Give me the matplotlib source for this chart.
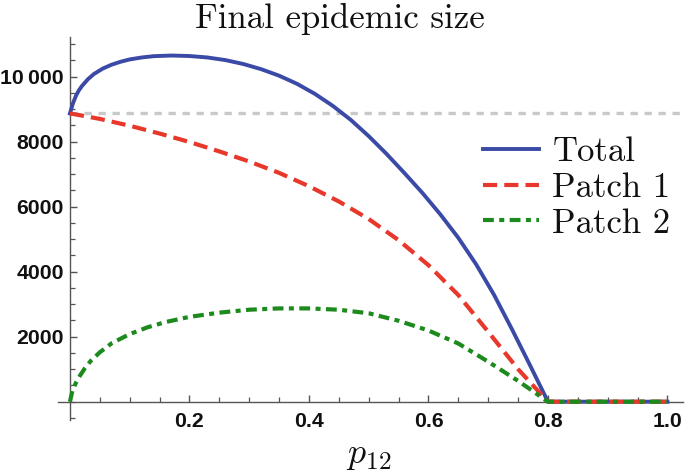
import matplotlib
matplotlib.use("Agg")
import matplotlib.pyplot as plt
from matplotlib.ticker import MultipleLocator, FixedLocator

# ---- data ----
p_total = [0.0, 0.005, 0.01, 0.015, 0.02, 0.03, 0.04, 0.055, 0.07, 0.085, 0.10, 0.12, 0.14,
           0.17, 0.20, 0.23, 0.26, 0.29, 0.32, 0.35, 0.38, 0.41, 0.44, 0.47, 0.50, 0.53,
           0.56, 0.59, 0.62, 0.65, 0.68, 0.71, 0.74, 0.77, 0.80, 0.90, 1.0]
total = [8870, 9180, 9410, 9580, 9710, 9920, 10080, 10250, 10370, 10460, 10530, 10590, 10630,
         10650, 10635, 10590, 10510, 10390, 10230, 10030, 9780, 9470, 9100, 8670, 8170, 7620,
         7030, 6420, 5760, 5040, 4220, 3280, 2220, 1120, 0, 0, 0]

p_patch1 = [0.0, 0.05, 0.10, 0.15, 0.20, 0.25, 0.30, 0.35, 0.40, 0.45, 0.50, 0.55, 0.60,
            0.65, 0.70, 0.75, 0.775, 0.80, 0.90, 1.0]
patch1 = [8870, 8700, 8490, 8250, 7990, 7700, 7390, 7040, 6630, 6160, 5620, 4970, 4200,
          3280, 2150, 1000, 500, 0, 0, 0]

p_patch2 = [0.0, 0.004, 0.01, 0.0167, 0.025, 0.035, 0.05, 0.07, 0.10, 0.13, 0.16, 0.20, 0.25,
            0.30, 0.35, 0.40, 0.45, 0.50, 0.55, 0.60, 0.65, 0.70, 0.75, 0.80, 0.90, 1.0]
patch2 = [0, 330, 580, 800, 1030, 1260, 1520, 1800, 2080, 2290, 2450, 2610, 2740,
          2830, 2870, 2870, 2830, 2720, 2490, 2190, 1790, 1230, 640, 0, 0, 0]

baseline = 8870  # single-patch reference level

x_major = [0.2, 0.4, 0.6, 0.8, 1.0]
x_labels = ["0.2", "0.4", "0.6", "0.8", "1.0"]
y_major = [2000, 4000, 6000, 8000, 10000]
y_labels = ["2000", "4000", "6000", "8000", "10\u2009000"]

labels = ["Total", "Patch 1", "Patch 2"]
title = "Final epidemic size"

# ---- figure ----
plt.rcParams['mathtext.fontset'] = 'cm'
plt.rcParams['axes.unicode_minus'] = False

fig = plt.figure(figsize=(6.85, 4.72), dpi=100)
ax = fig.add_axes([58/685, 52/472, 625/685, 383/472])

blue = "#3a4aa6"
red = "#e8372b"
green = "#1d8a1d"
gray = "#c9c9c9"

ax.axhline(baseline, xmin=0.02 / 1.046, xmax=1.0, color=gray, lw=2.4,
           dashes=(2.2, 2.0), zorder=1)
ax.plot(p_total, total, color=blue, lw=2.8, label=labels[0], zorder=3)
ax.plot(p_patch1, patch1, color=red, lw=3.0, dashes=(3.4, 1.7), label=labels[1], zorder=4)
ax.plot(p_patch2, patch2, color=green, lw=3.0, dashes=(2.6, 1.3, 1.2, 1.3), label=labels[2], zorder=5)

ax.set_xlim(-0.02, 1.026)
ax.set_ylim(-563, 11220)

for s in ['top', 'right']:
    ax.spines[s].set_visible(False)
for s in ['left', 'bottom']:
    ax.spines[s].set_position(('data', 0))
    ax.spines[s].set_color('#555555')
    ax.spines[s].set_linewidth(1.0)

ax.xaxis.set_major_locator(FixedLocator(x_major))
ax.set_xticklabels(x_labels)
ax.xaxis.set_minor_locator(MultipleLocator(0.05))
ax.yaxis.set_major_locator(FixedLocator(y_major))
ax.set_yticklabels(y_labels)
ax.yaxis.set_minor_locator(MultipleLocator(500))

ax.tick_params(which='major', direction='in', length=5, width=1.0, color='#555555')
ax.tick_params(which='minor', direction='in', length=3.3, width=0.9, color='#555555')
ax.tick_params(axis='x', which='major', pad=7.5)
ax.tick_params(axis='y', which='major', pad=4.5)
for lab in ax.get_xticklabels() + ax.get_yticklabels():
    lab.set_fontfamily(['Liberation Sans', 'DejaVu Sans'])
    lab.set_fontweight('bold')
    lab.set_fontsize(15.3)
    lab.set_color('#111111')

fig.text(340/685, 1 - 28/472, title, family='cmr10', fontsize=25, ha='center',
         va='baseline', color='#111111')
fig.text(369/685, 1 - 463/472, r'$p_{12}$', fontsize=26, ha='center', va='baseline',
         color='#111111')

leg = ax.legend(loc='center left', bbox_to_anchor=((483-58)/625, (420-188)/383),
                frameon=False, borderpad=0, borderaxespad=0, handlelength=1.6,
                handletextpad=0.4, labelspacing=0.12,
                prop={'family': 'cmr10', 'size': 25})
for t in leg.get_texts():
    t.set_color('#111111')

fig.savefig("out.png", dpi=100)
